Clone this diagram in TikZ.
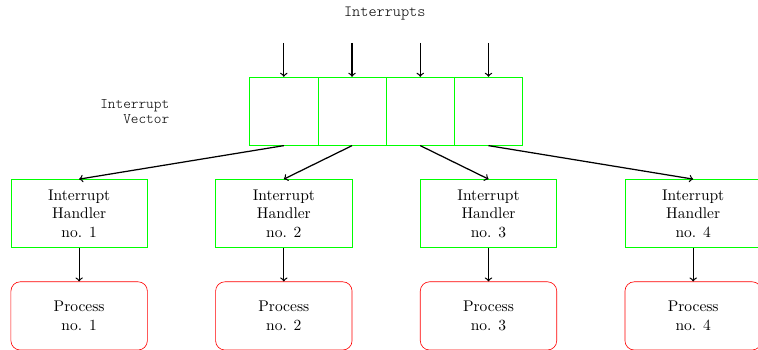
\documentclass[tikz,border=0pt]{standalone}
\usepackage{tikz}

\begin{document}
\begin{tikzpicture}[x=44pt,y=44pt,>=to,
  cell/.style={draw=green,minimum width=44pt,minimum height=44pt},
  handler/.style={draw=green,minimum width=88pt,minimum height=44pt,align=center},
  process/.style={draw=red,rounded corners=6pt,minimum width=88pt,minimum height=44pt,align=center},
  ttlabel/.style={font=\ttfamily\fontseries{l}\selectfont},
  link/.style={->,thick}]

\useasboundingbox (0,0) rectangle (11.11,-5.12);

% Draw the vector cells, and the interrupt arrows into them.
\node[cell] (v1) at (4.16,-1.63) {};
\node[cell] (v2) at (5.16,-1.63) {};
\node[cell] (v3) at (6.16,-1.63) {};
\node[cell] (v4) at (7.16,-1.63) {};

\node[ttlabel] (intr) at (5.64,-0.2) {Interrupts};
\node[ttlabel,font=\ttfamily\fontseries{l}\fontsize{9.4}{9.8}\selectfont,align=right,anchor=east] (ivec) at (2.56,-1.64) {Interrupt\\Vector};

\coordinate (i1) at (4.16,-0.63);
\coordinate (i2) at (5.16,-0.63);
\coordinate (i3) at (6.16,-0.63);
\coordinate (i4) at (7.16,-0.63);
\draw[link] (i1) -- (v1.north);
\draw[link] (i2) -- (v2.north);
\draw[link] (i3) -- (v3.north);
\draw[link] (i4) -- (v4.north);

% Draw handlers and processes.
\node[handler] (h1) at (1.16,-3.13) {Interrupt\\Handler\\no. 1};
\node[handler] (h2) at (4.16,-3.13) {Interrupt\\Handler\\no. 2};
\node[handler] (h3) at (7.16,-3.13) {Interrupt\\Handler\\no. 3};
\node[handler] (h4) at (10.16,-3.13) {Interrupt\\Handler\\no. 4};

\node[process] (p1) at (1.16,-4.63) {Process\\no. 1};
\node[process] (p2) at (4.16,-4.63) {Process\\no. 2};
\node[process] (p3) at (7.16,-4.63) {Process\\no. 3};
\node[process] (p4) at (10.16,-4.63) {Process\\no. 4};

% Draw arrows from the vector down to the processes.
\draw[link] (v1.south) -- (h1.north);
\draw[link] (v2.south) -- (h2.north);
\draw[link] (v3.south) -- (h3.north);
\draw[link] (v4.south) -- (h4.north);

\draw[link] (h1) -- (p1);
\draw[link] (h2) -- (p2);
\draw[link] (h3) -- (p3);
\draw[link] (h4) -- (p4);
\end{tikzpicture}
\end{document}
